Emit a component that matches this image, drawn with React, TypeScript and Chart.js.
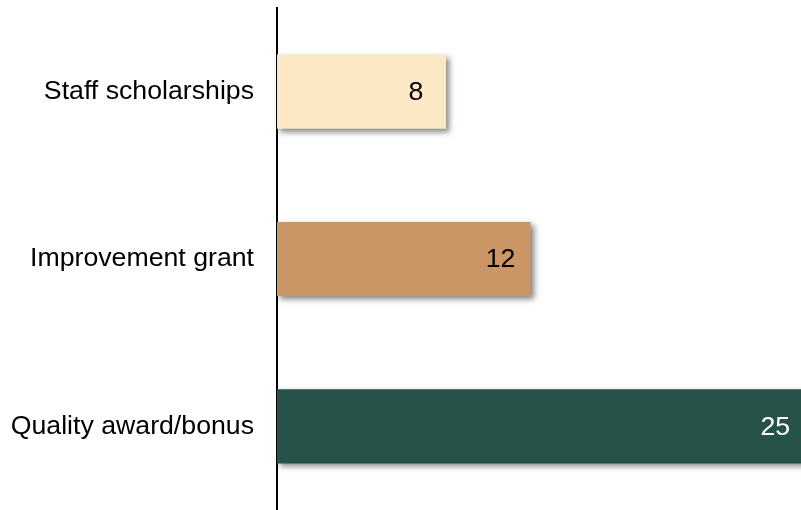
import React, { useEffect, useRef } from "react";
import { Chart, registerables } from "chart.js";

Chart.register(...registerables);

const categories = ["Staff scholarships", "Improvement grant", "Quality award/bonus"];
const values = [8, 12, 25];
const barColors = ["#FDE8C6", "#CB9665", "#27524A"];
const labelColors = ["#000000", "#000000", "#FFFFFF"];

const FONT = "'Liberation Sans', Arial, sans-serif";
const FONT_SIZE = 26.7;

const shadowPlugin = {
  id: "barShadow",
  beforeDatasetsDraw(chart: any) {
    const ctx = chart.ctx;
    ctx.save();
    ctx.shadowColor = "rgba(0,0,0,0.5)";
    ctx.shadowBlur = 6;
    ctx.shadowOffsetX = 3;
    ctx.shadowOffsetY = 3;
  },
  afterDatasetsDraw(chart: any) {
    const ctx = chart.ctx;
    ctx.restore();
    const meta = chart.getDatasetMeta(0);
    ctx.save();
    ctx.font = `${FONT_SIZE}px ${FONT}`;
    ctx.textAlign = "center";
    ctx.textBaseline = "middle";
    meta.data.forEach((bar: any, i: number) => {
      ctx.fillStyle = labelColors[i];
      ctx.fillText(String(values[i]), bar.x - 30, bar.y + 1);
    });
    ctx.restore();
  },
};

export default function App() {
  const ref = useRef<HTMLCanvasElement>(null);
  useEffect(() => {
    if (!ref.current) return;
    const chart = new Chart(ref.current, {
      type: "bar",
      data: {
        labels: categories,
        datasets: [
          {
            data: values,
            backgroundColor: barColors,
            borderWidth: 0,
            categoryPercentage: 1,
            barPercentage: 0.443,
          },
        ],
      },
      options: {
        indexAxis: "y",
        animation: false,
        responsive: false,
        maintainAspectRatio: false,
        layout: { padding: { top: 8, left: 0, right: 0, bottom: 0 } },
        plugins: { legend: { display: false }, tooltip: { enabled: false } },
        scales: {
          x: { display: false, min: 0, max: 24.8 },
          y: {
            grid: { display: false, drawTicks: false },
            border: { display: true, color: "#000000", width: 2 },
            ticks: {
              color: "#000000",
              padding: 23,
              font: { family: FONT, size: FONT_SIZE },
            },
            afterFit(scale: any) {
              scale.width = 277;
              scale.paddingTop = 0;
              scale.paddingBottom = 0;
            },
          },
        },
      },
      plugins: [shadowPlugin],
    });
    return () => chart.destroy();
  }, []);
  return (
    <div style={{ position: "absolute", left: 0, top: 0, width: 801, height: 510, background: "#fff" }}>
      <canvas ref={ref} width={801} height={510} style={{ display: "block" }} />
    </div>
  );
}
